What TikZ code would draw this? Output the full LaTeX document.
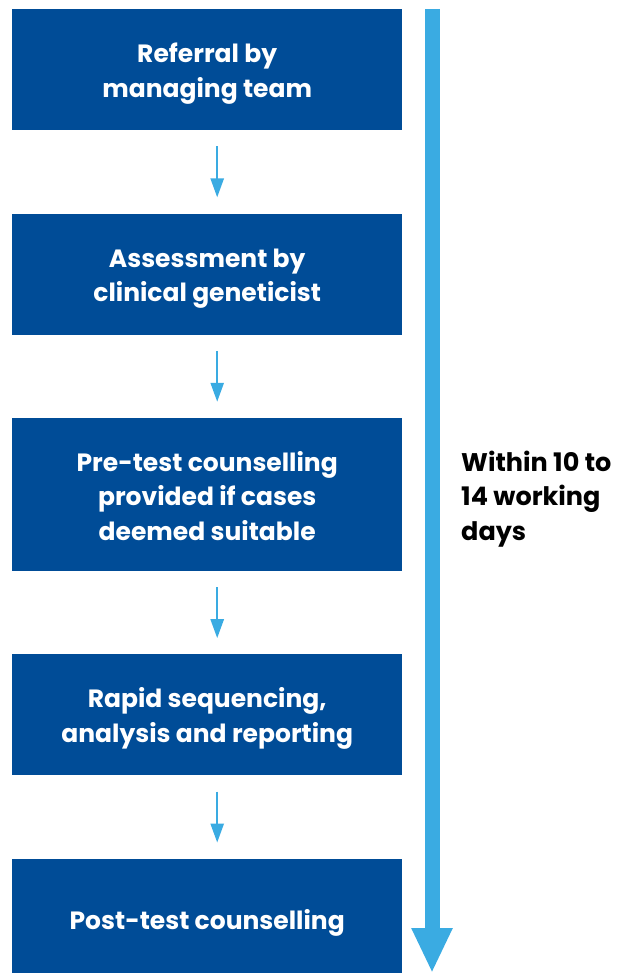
\documentclass[tikz,border=0pt]{standalone}
\usepackage{fontspec}
\setmainfont{Poppins}
\usetikzlibrary{positioning,arrows.meta}
\definecolor{stepblue}{RGB}{0,76,151}
\definecolor{arrowblue}{RGB}{58,171,226}

\begin{document}
\begin{tikzpicture}[x=1pt,y=1pt,node distance=83pt,
	box/.style={fill=stepblue,text=white,minimum width=390pt,minimum height=121pt,
		inner sep=0pt,align=center,font=\fontsize{25}{34.5}\selectfont\bfseries},
	textdrop/.style={execute at begin node={\rule{0pt}{#1}}},
	flow/.style={-{Triangle[length=19pt,width=13pt]},arrowblue,line width=2.5pt}]
	\useasboundingbox (0,0) rectangle (633,-973);
	\node[box,textdrop=62pt,anchor=north west] (ref) at (12,-9) {Referral by\\managing team};
	\node[box,textdrop=62pt] (assess) [below=of ref] {Assessment by\\clinical geneticist};
	\node[box,textdrop=92pt,minimum height=153pt] (pre) [below=of assess] {Pre-test counselling\\provided if cases\\deemed suitable};
	\node[box,textdrop=62pt] (seq) [below=of pre] {Rapid sequencing,\\analysis and reporting};
	\node[box,textdrop=34pt,minimum height=114pt] (post) [below=of seq] {Post-test counselling};
	\foreach \a/\b in {ref/assess,assess/pre,pre/seq,seq/post}
		\draw[flow] ([xshift=10pt,yshift=-16pt]\a.south) -- ([xshift=10pt,yshift=16pt]\b.north);
	% timeline
	\coordinate (start) at (432,-9);
	\coordinate (finish) at (432,-973);
	\draw[arrowblue,line width=15pt,-{Triangle[length=45pt,width=38pt]}] (start) -- (finish);
	\node[anchor=west,align=left,font=\fontsize{25.5}{34.5}\selectfont\bfseries,inner sep=0pt] (time) at (461,-499) {Within 10 to\\14 working\\days};
\end{tikzpicture}
\end{document}
